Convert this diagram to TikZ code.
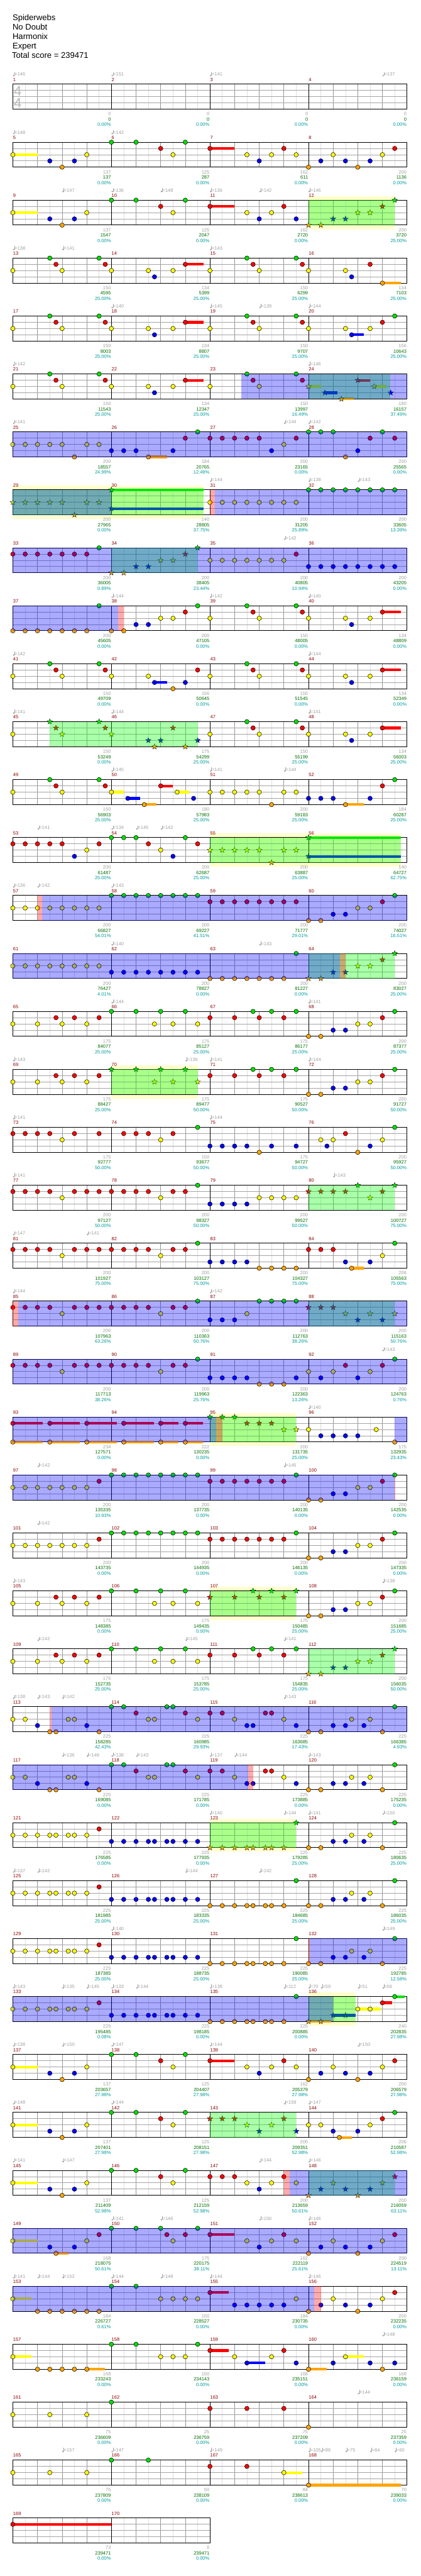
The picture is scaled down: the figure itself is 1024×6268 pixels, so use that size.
\documentclass[tikz,border=0pt]{standalone}
\usepackage{fontspec}
\setmainfont{Liberation Sans}
\usepackage{tikz}
\usetikzlibrary{shapes.geometric}

\definecolor{laneG}{RGB}{0,225,0}
\definecolor{laneR}{RGB}{255,0,0}
\definecolor{laneY}{RGB}{255,255,0}
\definecolor{laneB}{RGB}{0,0,255}
\definecolor{laneO}{RGB}{255,165,0}
\definecolor{numred}{RGB}{140,0,0}
\definecolor{softgray}{RGB}{160,160,160}
\definecolor{totalgreen}{RGB}{0,110,0}
\definecolor{pctteal}{RGB}{0,155,155}
\definecolor{halfgray}{RGB}{222,222,222}
\definecolor{beatgray}{RGB}{150,150,150}
\definecolor{strgray}{RGB}{165,165,165}
\definecolor{tsgray}{RGB}{185,185,185}
\definecolor{paleyel}{RGB}{255,255,204}
\definecolor{phrasegreen}{RGB}{0,255,0}

\newcommand{\smallfont}{\fontsize{11.5}{13}\selectfont}
\newcommand{\titlefont}{\fontsize{20}{23}\selectfont}

% lane heights inside one staff
\def\lyG{0}\def\lyR{15.2}\def\lyY{30.4}\def\lyB{45.6}\def\lyO{60.8}
\newcommand{\setlane}[1]{\edef\nc{lane#1}\edef\ny{\csname ly#1\endcsname}}

\newcommand{\staffrow}[2]{%
  \begin{scope}[shift={(31.3,{205+141*#1})}]
    \pgfmathtruncatemacro{\nodd}{8*#2-1}
    \pgfmathtruncatemacro{\neven}{8*#2-2}
    \pgfmathtruncatemacro{\nbar}{#2-1}
    \foreach \i in {1,3,...,\nodd} \draw[halfline] (30*\i,0) -- (30*\i,60.8);
    \foreach \i in {2,4,...,\neven} \draw[beatline] (30*\i,0) -- (30*\i,60.8);
    \foreach \s in {15.2,30.4,45.6} \draw[stringline] (0,\s) -- (240*#2,\s);
    \foreach \i in {1,...,\nbar} \draw[barline] (240*\i,0) -- (240*\i,60.8);
    \draw[staffframe] (0,0) rectangle (240*#2,60.8);
  \end{scope}}
\newcommand{\sus}[2]{%
  \begin{scope}[shift={(31.3,{205+141*#1})}]
    \foreach \x/\fret/\dur in {#2}{\setlane{\fret}
      \fill[fill=\nc] (30*\x,\ny-3.2) rectangle ({30*(\x+\dur)},\ny+3.2);}
  \end{scope}}
\newcommand{\notes}[2]{%
  \begin{scope}[shift={(31.3,{205+141*#1})}]
    \foreach \x/\fret in {#2}{\setlane{\fret}
      \draw[note,fill=\nc] (30*\x,\ny) circle (5.4pt);}
  \end{scope}}
\newcommand{\stars}[2]{%
  \begin{scope}[shift={(31.3,{205+141*#1})}]
    \foreach \x/\fret [count=\q] in {#2}{\setlane{\fret}
      \node[starnote,fill=\nc] (star#1-\q) at (30*\x,\ny) {};}
  \end{scope}}
\newcommand{\zone}[4]{%
  \fill[#2] ({31.3+30*#3},{205+141*#1}) rectangle ({31.3+30*#4},{265.8+141*#1});}
\newcommand{\halo}[3]{%
  \fill[paleyel] ({31.3+30*#2},{195+141*#1}) rectangle ({31.3+30*#3},{275.8+141*#1});}
\newcommand{\tempos}[2]{%
  \begin{scope}[shift={(31.3,{205+141*#1})}]
    \foreach \x/\bpm [count=\q] in {#2}{
      \fill[softgray] (30*\x+2,-21) circle (2pt);
      \draw[softgray,line width=0.7pt] (30*\x+3.8,-21) -- (30*\x+3.8,-29.5);
      \node[tempolbl,anchor=base west] (bpm#1-\q) at (30*\x+4.3,-20) {=\bpm};}
  \end{scope}}
\newcommand{\scores}[2]{%
  \begin{scope}[shift={(31.3,{205+141*#1})}]
    \foreach \gain/\total/\share [count=\j from 0] in {#2}{
      \pgfmathtruncatemacro{\mn}{4*#1+\j+1}
      \node[numlbl,anchor=base west] (num\mn) at (240*\j+0.5,-7.3) {\mn};
      \node[scorelbl,anchor=base east] (pts\mn) at (240*\j+239,76.5) {\gain};
      \node[totallbl,anchor=base east] (acc\mn) at (240*\j+239,89.5) {\total};
      \node[pctlbl,anchor=base east] (pct\mn) at (240*\j+239,102.5) {\share\%};}
  \end{scope}}

\begin{document}
\begin{tikzpicture}[x=1pt,y=-1pt,
  note/.style={draw=black,line width=0.8pt},
  starnote/.style={star,star points=5,star point ratio=2.4,minimum size=14pt,inner sep=0pt,draw=black,line width=0.5pt},
  halfline/.style={draw=halfgray,line width=0.8pt},
  beatline/.style={draw=beatgray,line width=0.9pt},
  stringline/.style={draw=strgray,line width=1.4pt},
  barline/.style={draw=black,line width=0.9pt},
  staffframe/.style={draw=black,line width=1.5pt},
  spblue/.style={fill=blue,fill opacity=0.333},
  spgreen/.style={fill=phrasegreen,fill opacity=0.333},
  sppink/.style={fill=red,fill opacity=0.333},
  numlbl/.style={text=numred,font=\smallfont,inner sep=0pt},
  tempolbl/.style={text=softgray,font=\smallfont,inner sep=0pt},
  scorelbl/.style={text=softgray,font=\smallfont,inner sep=0pt},
  totallbl/.style={text=totalgreen,font=\smallfont,inner sep=0pt},
  pctlbl/.style={text=pctteal,font=\smallfont,inner sep=0pt},
  titlelbl/.style={font=\titlefont,inner sep=0pt,anchor=base west}]
\useasboundingbox (0,0) rectangle (1024,6268);

\node[titlelbl] (song) at (30.5,49) {Spiderwebs};
\node[titlelbl] (artist) at (30.5,72) {No Doubt};
\node[titlelbl] (charter) at (30.5,95) {Harmonix};
\node[titlelbl] (level) at (30.5,118) {Expert};
\node[titlelbl] (total) at (29,141) {Total score = 239471};

% row 0: measures 1-4
\staffrow{0}{4}
\node[text=tsgray,font={\fontsize{34}{34}\selectfont},inner sep=0pt,anchor=base west] (tsup) at (33.5,233) {4};
\node[text=tsgray,font={\fontsize{34}{34}\selectfont},inner sep=0pt,anchor=base west] (tsdown) at (33.5,263) {4};
\tempos{0}{0/146,8/151,16/141,30/137}
\scores{0}{0/0/0.00,0/0/0.00,0/0/0.00,0/0/0.00}

% row 1: measures 5-8
\staffrow{1}{4}
\sus{1}{0/Y/2,16/R/2}
\notes{1}{0/Y,3/B,4/O,5/B,6/Y,8/G,10/G,12/R,13/Y,14/G,16/R,19/Y,20/B,21/Y,22/R,23/Y,24/O,25/B,26/Y,27/B,28/O,29/B,30/Y,31/R}
\tempos{1}{0/148,8/142}
\scores{1}{137/137/0.00,125/287/0.00,162/611/0.00,200/1136/0.00}

% row 2: measures 9-12
\halo{2}{24}{31}
\staffrow{2}{4}
\sus{2}{0/Y/2,16/R/2}
\notes{2}{0/Y,3/B,4/O,5/B,6/Y,8/G,10/G,12/R,13/Y,14/G,16/R,19/Y,20/B,21/Y,22/R,23/B}
\stars{2}{24/O,25/O,26/B,27/B,28/Y,29/Y,30/R,31/G}
\zone{2}{spgreen}{24}{31}
\tempos{2}{4/147,8/136,12/148,16/136,20/142,24/146}
\scores{2}{137/1547/0.00,125/2047/0.00,162/2720/0.00,200/3720/25.00}

% row 3: measures 13-16
\staffrow{3}{4}
\sus{3}{14/R/1.5,30/O/1.5}
\notes{3}{0/Y,3/G,3.5/R,4/Y,7/G,7.5/R,8/Y,11/Y,11.5/B,13/Y,14/R,16/Y,19/G,19.5/R,20/Y,23/G,23.5/R,24/Y,27/Y,27.5/B,29/R,30/O}
\tempos{3}{0/138,4/141,16/143}
\scores{3}{150/4595/25.00,134/5399/25.00,150/6299/25.00,134/7103/25.00}

% row 4: measures 17-20
\staffrow{4}{4}
\sus{4}{14/R/1.5,27.5/B/1}
\notes{4}{0/Y,3/G,3.5/R,4/Y,7/G,7.5/R,8/Y,11/Y,11.5/B,13/Y,14/R,16/Y,19/G,19.5/R,20/Y,23/G,23.5/R,24/Y,27/Y,27.5/B,29/Y,30/R,31/G}
\tempos{4}{8/140,16/145,20/139,24/144}
\scores{4}{150/8003/25.00,134/8807/25.00,150/9707/25.00,156/10643/25.00}

% row 5: measures 21-24
\staffrow{5}{4}
\sus{5}{14/R/1.5,24/Y/1,25.33/B/1,26.67/O/1,28/R/1,29.33/Y/1}
\notes{5}{0/Y,3/G,3.5/R,4/Y,7/G,7.5/R,8/Y,11/Y,11.5/B,13/Y,14/R,16/Y,19/G,19.5/R,20/Y,23/G,23.5/R}
\stars{5}{24/Y,25.33/B,26.67/O,28/R,29.33/Y,30.67/B}
\zone{5}{spgreen}{24}{30.63}
\zone{5}{spblue}{18.52}{32}
\tempos{5}{0/142,24/146}
\scores{5}{150/11543/25.00,134/12347/25.00,150/13997/16.49,180/16157/37.49}

% row 6: measures 25-28
\staffrow{6}{4}
\sus{6}{11/O/1.5}
\notes{6}{0/Y,1/Y,2/Y,3/Y,4/Y,5/O,6/Y,7/Y,8/B,9/B,10/B,11/O,13/B,14/R,15/G,16/R,17/R,18/R,19/R,20/R,21/B,22/Y,23/R,24/G,25/G,26/G,27/O,28/B,29/R,30/G,31/R}
\zone{6}{spblue}{0}{32}
\tempos{6}{0/141,22/144,24/142}
\scores{6}{200/18557/24.99,184/20765/12.49,200/23165/0.00,200/25565/0.00}

% row 7: measures 29-32
\halo{7}{0}{15.5}
\staffrow{7}{4}
\sus{7}{8/G/7.5,8/B/7.5}
\notes{7}{16/Y,17/Y,18/Y,19/Y,20/Y,21/Y,22/Y,23/Y,24/G,25/G,26/G,27/G,28/G,29/G,30/G,31/G}
\stars{7}{0/Y,1/Y,2/Y,3/Y,4/Y,5/O,6/Y,7/Y,8/G,8/B}
\zone{7}{spgreen}{0}{15.5}
\zone{7}{spblue}{0}{8}
\zone{7}{sppink}{16}{16.4}
\zone{7}{spblue}{16.4}{32}
\tempos{7}{16/144,24/138,28/143}
\scores{7}{200/27965/0.00,140/28805/37.75,200/31205/25.89,200/33605/13.39}

% row 8: measures 33-36
\staffrow{8}{4}
\notes{8}{0/R,1/R,2/R,3/R,4/R,5/R,6/R,7/G,16/Y,17/Y,18/Y,19/Y,20/Y,21/Y,22/Y,23/R,24/B,25/B,26/B,27/B,28/B,29/B,30/B,31/B}
\stars{8}{8/O,9/O,10/B,11/B,12/Y,13/Y,14/R,15/G}
\zone{8}{spgreen}{8}{15}
\zone{8}{spblue}{0}{32}
\tempos{8}{22/142}
\scores{8}{200/36005/0.89,200/38405/23.44,200/40805/10.94,200/43205/0.00}

% row 9: measures 37-40
\staffrow{9}{4}
\sus{9}{30/R/1.5}
\notes{9}{0/O,1/O,2/O,3/O,4/O,5/O,6/O,7/G,8/O,9/O,10/B,11/B,12/Y,13/Y,14/R,15/G,16/Y,19/G,19.5/R,20/Y,23/G,23.5/R,24/Y,27/Y,27.5/B,29/Y,30/R}
\zone{9}{spblue}{0}{8.55}
\zone{9}{sppink}{8.55}{9}
\tempos{9}{8/144,16/142,24/140}
\scores{9}{200/45605/0.00,200/47105/0.00,150/48005/0.00,134/48809/0.00}

% row 10: measures 41-44
\staffrow{10}{4}
\sus{10}{11.5/B/1,30/R/1.5}
\notes{10}{0/Y,3/G,3.5/R,4/Y,7/G,7.5/R,8/Y,11/Y,11.5/B,13/O,14/B,15/R,16/Y,19/G,19.5/R,20/Y,23/G,23.5/R,24/Y,27/Y,27.5/B,29/Y,30/R}
\tempos{10}{0/142,24/144}
\scores{10}{150/49709/0.00,156/50645/0.00,150/51545/0.00,134/52349/0.00}

% row 11: measures 45-48
\staffrow{11}{4}
\sus{11}{30/R/1.5}
\notes{11}{0/Y,16/Y,19/G,19.5/R,20/Y,23/G,23.5/R,24/Y,27/Y,27.5/B,29/Y,30/R}
\stars{11}{3/G,3.5/R,4/Y,7/G,7.5/R,8/Y,11/B,11.5/O,12/B,13/R,14/O,15/B}
\zone{11}{spgreen}{3}{15}
\tempos{11}{0/141,8/144,24/141}
\scores{11}{150/53249/0.00,175/54299/25.00,150/55199/25.00,134/56003/25.00}

% row 12: measures 49-52
\staffrow{12}{4}
\sus{12}{8/Y/1,9.33/B/1,10.67/O/1,12/R/1,13.33/Y/1,27/O/1.5}
\notes{12}{0/Y,3/G,3.5/R,4/Y,7/G,7.5/R,8/Y,9.33/B,10.67/O,12/R,13.33/Y,14.67/B,16/Y,17/Y,18/Y,19/Y,20/Y,21/O,22/Y,23/Y,24/B,25/B,26/B,27/O,29/B,30/R,31/G}
\tempos{12}{8/145,16/141,22/144}
\scores{12}{150/56903/25.00,180/57983/25.00,200/59183/25.00,184/60287/25.00}

% row 13: measures 53-56
\halo{13}{16}{31.5}
\staffrow{13}{4}
\sus{13}{24/G/7.5,24/B/7.5}
\notes{13}{0/R,1/R,2/R,3/R,4/R,5/B,6/Y,7/R,8/G,9/G,10/G,11/R,12/Y,13/B,14/G,15/R}
\stars{13}{16/Y,17/Y,18/Y,19/Y,20/Y,21/O,22/Y,23/Y,24/G,24/B}
\zone{13}{spgreen}{16}{31.5}
\tempos{13}{2/141,8/134,10/145,12/142}
\scores{13}{200/61487/25.00,200/62687/25.00,200/63887/25.00,140/64727/62.75}

% row 14: measures 57-60
\staffrow{14}{4}
\notes{14}{0/Y,1/Y,2/Y,3/Y,4/Y,5/Y,6/Y,7/Y,8/G,9/G,10/G,11/G,12/G,13/G,14/G,15/G,16/R,17/R,18/R,19/R,20/R,21/R,22/R,23/R,24/O,25/O,26/B,27/B,28/Y,29/Y,30/R,31/G}
\zone{14}{sppink}{2}{2.37}
\zone{14}{spblue}{2.37}{32}
\tempos{14}{0/136,2/142,8/143}
\scores{14}{200/66827/54.01,200/69227/41.51,200/71777/29.01,200/74027/16.51}

% row 15: measures 61-64
\staffrow{15}{4}
\notes{15}{0/Y,1/Y,2/Y,3/Y,4/Y,5/Y,6/Y,7/Y,8/B,9/B,10/B,11/B,12/B,13/B,14/B,15/B,16/O,17/O,18/O,19/O,20/O,21/O,22/O,23/G}
\stars{15}{24/O,25/O,26/B,27/B,28/Y,29/Y,30/R,31/G}
\zone{15}{spgreen}{24}{31}
\zone{15}{spblue}{0}{26.53}
\zone{15}{sppink}{26.53}{27}
\tempos{15}{8/140,20/143}
\scores{15}{200/76427/4.01,200/78827/0.00,200/81227/0.00,200/83027/25.00}

% row 16: measures 65-68
\staffrow{16}{4}
\notes{16}{0/Y,2/Y,3.5/R,4/Y,5/R,6/Y,7/R,8/G,10/G,11.5/Y,12/G,13/Y,14/G,15/Y,16/R,18/R,19.5/G,20/R,21/G,22/R,23/G,24/O,25/O,26/B,27/B,28/Y,29/Y,30/R,31/G}
\tempos{16}{8/144,24/141}
\scores{16}{175/84077/25.00,175/85127/25.00,175/86177/25.00,200/87377/25.00}

% row 17: measures 69-72
\halo{17}{8}{15}
\staffrow{17}{4}
\notes{17}{0/Y,2/Y,3.5/R,4/Y,5/R,6/Y,7/R,16/R,18/R,19.5/G,20/R,21/G,22/R,23/G,24/O,25/O,26/B,27/B,28/Y,29/Y,30/R,31/G}
\stars{17}{8/G,10/G,11.5/Y,12/G,13/Y,14/G,15/Y}
\zone{17}{spgreen}{8}{15}
\tempos{17}{0/143,14/136,16/141,24/144}
\scores{17}{175/88427/25.00,175/89477/50.00,175/90527/50.00,200/91727/50.00}

% row 18: measures 73-76
\staffrow{18}{4}
\notes{18}{0/R,1/R,2/R,3/R,4/Y,5/R,7/R,9/R,10/R,11/R,12/Y,13/R,15/G,16/B,17/B,18/B,19/B,20/O,21/B,23/B,25/Y,25.5/B,26/Y,27/R,28/O,29/B,30/Y,31/G}
\tempos{18}{0/141,16/144}
\scores{18}{175/92777/50.00,150/93677/50.00,175/94727/50.00,200/95927/50.00}

% row 19: measures 77-80
\staffrow{19}{4}
\notes{19}{0/R,1/R,2/R,3/R,4/Y,5/R,6/R,7/R,8/R,9/R,10/R,11/R,12/Y,13/R,14/R,15/G,16/B,17/B,18/B,19/B,20/Y,21/Y,22/Y,23/Y}
\stars{19}{24/R,25/R,26/R,27/R,28/G,29/Y,30/R,31/G}
\zone{19}{spgreen}{24}{31}
\tempos{19}{0/141,26/143}
\scores{19}{200/97127/50.00,200/98327/50.00,200/99527/50.00,200/100727/75.00}

% row 20: measures 81-84
\staffrow{20}{4}
\sus{20}{27.5/O/1}
\notes{20}{0/R,1/R,2/R,3/R,4/Y,5/R,6/R,7/R,8/R,9/R,10/R,11/R,12/Y,13/R,14/R,15/G,16/B,17/B,18/B,19/B,20/O,21/O,22/O,23/O,24/R,25/R,26/R,27/B,27.5/O,29/B,30/Y,31/G}
\tempos{20}{0/147,6/141}
\scores{20}{200/101927/75.00,200/103127/75.00,200/104327/75.00,206/105563/75.00}

% row 21: measures 85-88
\staffrow{21}{4}
\notes{21}{0/R,1/R,2/R,3/R,4/Y,5/R,6/R,7/R,8/R,9/R,10/R,11/R,12/Y,13/R,14/R,15/G,16/B,17/B,18/B,19/Y,20/G,21/G,22/G,23/G}
\stars{21}{24/R,25/R,26/R,27/Y,28/B,29/Y,30/B,31/Y}
\zone{21}{spgreen}{24}{31}
\zone{21}{sppink}{0}{0.45}
\zone{21}{spblue}{0.45}{32}
\tempos{21}{0/144,16/142}
\scores{21}{200/107963/63.26,200/110363/50.76,200/112763/38.26,200/115163/50.76}

% row 22: measures 89-92
\staffrow{22}{4}
\notes{22}{0/R,1/R,2/R,3/R,4/Y,5/R,6/R,7/R,8/R,9/R,10/R,11/R,12/Y,13/R,14/R,15/G,16/B,17/B,18/B,19/B,20/O,21/O,22/O,23/B,24/Y,25/B,26/Y,27/R,28/B,29/Y,30/R,31/G}
\zone{22}{spblue}{0}{32}
\tempos{22}{30/143}
\scores{22}{200/117713/38.26,200/119963/25.76,200/122363/13.26,200/124763/0.76}

% row 23: measures 93-96
\halo{23}{16}{23}
\staffrow{23}{4}
\sus{23}{0/R/2.45,0/O/2.45,3/R/2.45,3/O/2.45,6/R/2.45,6/O/2.45,9/R/2.45,9/O/2.45,12/R/1.45,12/O/1.45,14/R/1.45,14/O/1.45}
\notes{23}{0/R,0/O,3/R,3/O,6/R,6/O,9/R,9/O,12/R,12/O,14/R,14/O,24/Y,25/B,26/B,27/B,28/B,29.5/Y,31/O}
\stars{23}{16/G,17/G,18/G,19/R,20/R,21/R,22/Y,23/Y}
\zone{23}{spgreen}{16}{23}
\zone{23}{spblue}{0}{16.48}
\zone{23}{sppink}{16.48}{17}
\zone{23}{spblue}{31}{32}
\tempos{23}{24/140}
\scores{23}{234/127571/0.00,222/130235/0.00,200/131735/25.00,175/132935/23.43}

% row 24: measures 97-100
\staffrow{24}{4}
\notes{24}{0/Y,1/Y,2/Y,3/Y,4/Y,5/Y,6/Y,7/R,8/G,9/G,10/G,11/G,12/G,13/G,14/G,15/G,16/R,17/R,18/R,19/R,20/R,21/R,22/R,23/G,24/O,25/O,26/B,27/B,28/Y,29/Y,30/R,31/G}
\zone{24}{spblue}{0}{31}
\zone{24}{sppink}{31}{31.05}
\tempos{24}{2/142,22/145}
\scores{24}{200/135335/10.93,200/137735/0.00,200/140135/0.00,200/142535/0.00}

% row 25: measures 101-104
\staffrow{25}{4}
\notes{25}{0/Y,1/Y,2/Y,3/Y,4/Y,5/Y,6/Y,7/R,8/G,9/G,10/G,11/G,12/G,13/G,14/G,15/G,16/R,17/R,18/R,19/R,20/R,21/R,22/R,23/G,24/O,25/O,26/B,27/B,28/Y,29/Y,30/R,31/G}
\tempos{25}{2/142}
\scores{25}{200/143735/0.00,200/144935/0.00,200/146135/0.00,200/147335/0.00}

% row 26: measures 105-108
\halo{26}{16}{23}
\staffrow{26}{4}
\notes{26}{0/Y,2/Y,3.5/R,4/Y,5/R,6/Y,7/R,8/G,10/G,11.5/Y,12/G,13/Y,14/G,15/Y,24/O,25/O,26/B,27/B,28/Y,29/Y,30/R,31/G}
\stars{26}{16/R,18/R,19.5/G,20/R,21/G,22/R,23/G}
\zone{26}{spgreen}{16}{23}
\tempos{26}{0/143,30/138}
\scores{26}{175/148385/0.00,175/149435/0.00,175/150485/25.00,200/151685/25.00}

% row 27: measures 109-112
\staffrow{27}{4}
\notes{27}{0/Y,2/Y,3.5/R,4/Y,5/R,6/Y,7/R,8/G,10/G,11.5/Y,12/G,13/Y,14/G,15/Y,16/R,18/R,19.5/G,20/R,21/G,22/R,23/G}
\stars{27}{24/O,25/O,26/B,27/B,28/Y,29/Y,30/R,31/G}
\zone{27}{spgreen}{24}{31}
\tempos{27}{2/142,14/145,22/141}
\scores{27}{175/152735/25.00,175/153785/25.00,175/154835/25.00,200/156035/50.00}

% row 28: measures 113-116
\staffrow{28}{4}
\notes{28}{0/Y,1/Y,2/B,3/O,3.5/O,4.5/Y,5/Y,6/B,7/O,8/G,9/G,10/R,11/Y,11.5/Y,12.5/G,13/G,14/R,15/Y,16/R,17/R,18/Y,19/B,19.5/B,20.5/R,21/R,22/Y,23/B,24/O,25/O,26/B,27/B,27.5/Y,28.5/B,29/Y,30/O,31/G}
\zone{28}{sppink}{3}{3.12}
\zone{28}{spblue}{3.12}{32}
\tempos{28}{0/138,2/143,4/142,22/143}
\scores{28}{225/158285/42.43,225/160985/29.93,225/163685/17.43,225/166385/4.93}

% row 29: measures 117-120
\staffrow{29}{4}
\notes{29}{0/Y,1/Y,2/B,3/O,3.5/O,4.5/Y,5/Y,6/B,7/O,8/G,9/G,10/R,11/Y,11.5/Y,12.5/G,13/G,14/R,15/Y,16/R,17/R,18/Y,19/B,19.5/B,20.5/R,21/R,22/Y,23/B,24/O,25/O,26/B,27/B,27.5/Y,28.5/B,29/Y,30/O,31/G}
\zone{29}{spblue}{0}{19.1}
\zone{29}{sppink}{19.1}{19.5}
\tempos{29}{4/136,6/148,8/138,10/143,16/137,18/144,24/143}
\scores{29}{225/169085/0.00,225/171785/0.00,225/173885/0.00,225/175235/0.00}

% row 30: measures 121-124
\halo{30}{16}{23}
\staffrow{30}{4}
\notes{30}{0/Y,1/Y,2/Y,3/Y,3.5/Y,4.5/Y,5/Y,6/Y,7/R,8/B,9/B,10/B,11/B,11.5/B,12.5/B,13/B,14/B,15/B,24/O,25/O,26/B,27/B,27.5/Y,28.5/B,29/Y,30/O,31/G}
\stars{30}{16/O,17/O,18/O,19/O,19.5/O,20.5/O,21/O,22/O,23/G}
\zone{30}{spgreen}{16}{23}
\tempos{30}{16/140,22/144,24/141,30/150}
\scores{30}{225/176585/0.00,225/177935/0.00,225/179285/25.00,225/180635/25.00}

% row 31: measures 125-128
\staffrow{31}{4}
\notes{31}{0/Y,1/Y,2/Y,3/Y,3.5/Y,4.5/Y,5/Y,6/Y,7/R,8/B,9/B,10/B,11/B,11.5/B,12.5/B,13/B,14/B,15/B,16/O,17/O,18/O,19/O,19.5/O,20.5/O,21/O,22/O,23/G,24/O,25/O,26/B,27/B,27.5/Y,28.5/B,29/Y,30/O,31/G}
\tempos{31}{0/137,2/142,14/144,20/142}
\scores{31}{225/181985/25.00,225/183335/25.00,225/184685/25.00,225/186035/25.00}

% row 32: measures 129-132
\staffrow{32}{4}
\notes{32}{0/Y,1/Y,2/Y,3/Y,3.5/Y,4.5/Y,5/Y,6/Y,7/R,8/B,9/B,10/B,11/B,11.5/B,12.5/B,13/B,14/B,15/B,16/O,17/O,18/O,19/O,19.5/O,20.5/O,21/O,22/O,23/G,24/O,25/O,26/B,27/B,27.5/Y,28.5/B,29/Y,30/O,31/G}
\zone{32}{sppink}{24}{24.1}
\zone{32}{spblue}{24.1}{32}
\tempos{32}{8/140,30/149}
\scores{32}{225/187385/25.00,225/188735/25.00,225/190085/25.00,225/192785/12.58}

% row 33: measures 133-136
\halo{33}{24}{27.84}
\staffrow{33}{4}
\sus{33}{24/O/1.85,26/B/1.85,28/Y/1.85,30/R/0.8,31/G/0.8}
\notes{33}{0/Y,1/Y,2/Y,3/Y,3.5/Y,4.5/Y,5/Y,6/Y,7/R,8/B,9/B,10/B,11/B,11.5/B,12.5/B,13/B,14/B,15/B,16/O,17/O,18/O,19/O,19.5/O,20.5/O,21/O,22/O,23/G,28/Y,29/Y,30/R,31/G}
\stars{33}{24/O,25/O,26/B,27/B}
\zone{33}{spgreen}{24}{27.84}
\zone{33}{spblue}{0}{26}
\tempos{33}{0/143,4/135,6/145,8/133,10/144,16/138,22/112,24/70,25/59,28/51,30/56}
\scores{33}{225/195485/0.08,225/198185/0.00,225/200885/0.00,240/202835/27.98}

% row 34: measures 137-140
\staffrow{34}{4}
\sus{34}{0/Y/2,16/R/2}
\notes{34}{0/Y,3/B,4/O,5/B,6/Y,8/G,10/G,12/R,13/Y,14/G,16/R,19/Y,20/B,21/Y,22/R,23/Y,24/O,25/B,26/Y,27/B,28/O,29/B,30/Y,31/R}
\tempos{34}{0/138,4/150,8/147,16/144,28/150}
\scores{34}{137/203657/27.98,125/204407/27.98,162/205379/27.98,200/206579/27.98}

% row 35: measures 141-144
\staffrow{35}{4}
\sus{35}{0/Y/2,26.5/O/1}
\notes{35}{0/Y,3/B,4/O,5/B,6/Y,8/G,10/G,12/R,13/Y,14/G,24/Y,25/Y,26/B,26.5/O,28/B,29/Y,30/R,31/G}
\stars{35}{16/R,17/R,18/R,19/Y,20/B,21/Y,22/R,23/B}
\zone{35}{spgreen}{16}{23}
\tempos{35}{0/148,8/144,22/159,24/147}
\scores{35}{137/207401/27.98,125/208151/27.98,200/209351/52.98,206/210587/52.98}

% row 36: measures 145-148
\staffrow{36}{4}
\sus{36}{0/Y/2}
\notes{36}{0/Y,3/B,4/O,5/B,6/Y,8/G,10/G,12/R,13/Y,14/G,16/R,17/R,18/R,19/Y,20/B,21/Y,22/R,23/Y}
\stars{36}{24/O,25/B,26/Y,27/B,28/O,29/B,30/Y,31/R}
\zone{36}{spgreen}{24}{31}
\zone{36}{sppink}{22}{22.46}
\zone{36}{spblue}{22.46}{32}
\tempos{36}{0/141,4/147,20/144,24/146}
\scores{36}{137/211409/52.98,125/212159/52.98,200/213659/50.61,200/216059/63.11}

% row 37: measures 149-152
\staffrow{37}{4}
\sus{37}{0/Y/2,3.5/O/1,16/R/2}
\notes{37}{0/Y,3/B,3.5/O,5/B,6/Y,7/R,8/G,10/G,12/G,12.5/R,13/Y,14/R,15/G,16/R,19/Y,20/B,21/Y,22/R,23/Y,24/O,25/B,26/Y,27/B,28/O,29/B,30/Y,31/R}
\zone{37}{spblue}{0}{32}
\tempos{37}{8/141,12/146,20/150,24/146}
\scores{37}{168/218075/50.61,175/220175/38.11,162/222119/25.61,200/224519/13.11}

% row 38: measures 153-156
\staffrow{38}{4}
\sus{38}{0/Y/1.5,16/R/1.5}
\notes{38}{0/Y,2/O,3/O,4/O,5/O,6/O,7/O,8/G,10/G,12/Y,13/Y,14/Y,15/Y,16/R,18/B,19/B,20/B,21/B,22/B,23/Y,24/O,25/B,26/Y,27/B,28/O,29/B,30/Y,31/R}
\zone{38}{spblue}{0}{24.47}
\zone{38}{sppink}{24.47}{25}
\tempos{38}{0/141,2/144,4/152,8/144,12/148,16/144,24/146}
\scores{38}{184/226727/0.61,150/228527/0.00,184/230735/0.00,200/232235/0.00}

% row 39: measures 157-160
\staffrow{39}{4}
\sus{39}{0/Y/1.5,6/O/1.5,16/R/1.5,19/B/1.5,24/O/1.5,27/Y/1.5}
\notes{39}{0/Y,2/O,3/O,4/O,5/O,6/O,8/G,10/G,12/Y,13/Y,14/Y,15/G,16/R,18/Y,19/B,21/Y,22/R,23/B,24/O,26/B,27/Y,29/B,30/O,31/B}
\tempos{39}{30/148}
\scores{39}{168/233243/0.00,150/234143/0.00,168/235151/0.00,168/236159/0.00}

% row 40: measures 161-164
\staffrow{40}{4}
\notes{40}{0/Y,3/Y,6/Y,8/G,16/R,19/R,22/R,24/O}
\tempos{40}{28/144}
\scores{40}{75/236609/0.00,25/236759/0.00,75/237209/0.00,25/237359/0.00}

% row 41: measures 165-168
\staffrow{41}{4}
\sus{41}{22/Y/1.5,24/O/7.5}
\notes{41}{0/Y,3/Y,6/Y,8/G,11/G,16/R,19/R,22/Y,24/O}
\tempos{41}{4/157,8/147,16/149,24/105,25/86,27/75,29/64,31/60}
\scores{41}{75/237809/0.00,50/238109/0.00,84/238613/0.00,70/239033/0.00}

% row 42: measures 169-170
\staffrow{42}{2}
\sus{42}{0/R/8}
\notes{42}{0/R}
\scores{42}{73/239471/0.00,0/239471/0.00}
\end{tikzpicture}
\end{document}
